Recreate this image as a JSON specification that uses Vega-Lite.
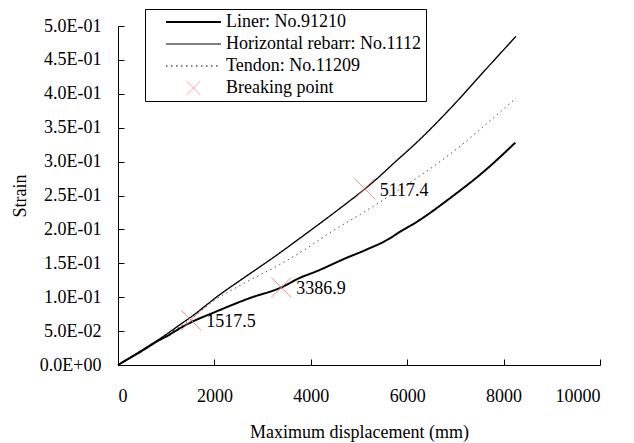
{
  "$schema": "https://vega.github.io/schema/vega-lite/v6.json",
  "autosize": {"type": "none"},
  "padding": {"left": 118, "top": 26, "right": 34, "bottom": 78},
  "width": 482,
  "height": 339,
  "background": "white",
  "config": {
    "font": "'Liberation Serif', 'Times New Roman', serif",
    "view": {"stroke": null},
    "axis": {
      "grid": false,
      "domainColor": "#000",
      "tickColor": "#000",
      "labelColor": "#000",
      "titleColor": "#000",
      "labelFont": "'Liberation Serif', 'Times New Roman', serif",
      "titleFont": "'Liberation Serif', 'Times New Roman', serif",
      "labelFontSize": 18,
      "titleFontSize": 18,
      "titleFontWeight": "normal",
      "domainWidth": 1,
      "tickWidth": 1
    }
  },
  "datasets": {
    "curves": [
      {"series": "Liner: No.91210", "x": 0, "y": 0},
      {"series": "Liner: No.91210", "x": 500, "y": 0.021},
      {"series": "Liner: No.91210", "x": 866, "y": 0.037},
      {"series": "Liner: No.91210", "x": 1000, "y": 0.042},
      {"series": "Liner: No.91210", "x": 1347, "y": 0.0567},
      {"series": "Liner: No.91210", "x": 1517.5, "y": 0.063},
      {"series": "Liner: No.91210", "x": 2039, "y": 0.0789},
      {"series": "Liner: No.91210", "x": 2730, "y": 0.0986},
      {"series": "Liner: No.91210", "x": 3386.9, "y": 0.1144},
      {"series": "Liner: No.91210", "x": 3766, "y": 0.1283},
      {"series": "Liner: No.91210", "x": 4111, "y": 0.138},
      {"series": "Liner: No.91210", "x": 4734, "y": 0.1578},
      {"series": "Liner: No.91210", "x": 5148, "y": 0.170},
      {"series": "Liner: No.91210", "x": 5631, "y": 0.1864},
      {"series": "Liner: No.91210", "x": 5838, "y": 0.196},
      {"series": "Liner: No.91210", "x": 6185, "y": 0.2105},
      {"series": "Liner: No.91210", "x": 6943, "y": 0.249},
      {"series": "Liner: No.91210", "x": 7600, "y": 0.286},
      {"series": "Liner: No.91210", "x": 8243, "y": 0.328},
      {"series": "Horizontal rebarr: No.1112", "x": 0, "y": 0},
      {"series": "Horizontal rebarr: No.1112", "x": 500, "y": 0.022},
      {"series": "Horizontal rebarr: No.1112", "x": 1000, "y": 0.045},
      {"series": "Horizontal rebarr: No.1112", "x": 1279, "y": 0.0592},
      {"series": "Horizontal rebarr: No.1112", "x": 1517.5, "y": 0.071},
      {"series": "Horizontal rebarr: No.1112", "x": 2108, "y": 0.1036},
      {"series": "Horizontal rebarr: No.1112", "x": 2600, "y": 0.128},
      {"series": "Horizontal rebarr: No.1112", "x": 3351, "y": 0.165},
      {"series": "Horizontal rebarr: No.1112", "x": 3766, "y": 0.1866},
      {"series": "Horizontal rebarr: No.1112", "x": 4388, "y": 0.2194},
      {"series": "Horizontal rebarr: No.1112", "x": 4802, "y": 0.2418},
      {"series": "Horizontal rebarr: No.1112", "x": 5127, "y": 0.26},
      {"series": "Horizontal rebarr: No.1112", "x": 5423, "y": 0.278},
      {"series": "Horizontal rebarr: No.1112", "x": 5666, "y": 0.294},
      {"series": "Horizontal rebarr: No.1112", "x": 6253, "y": 0.332},
      {"series": "Horizontal rebarr: No.1112", "x": 6943, "y": 0.382},
      {"series": "Horizontal rebarr: No.1112", "x": 7635, "y": 0.4364},
      {"series": "Horizontal rebarr: No.1112", "x": 8257, "y": 0.4848},
      {"series": "Tendon: No.11209", "x": 0, "y": 0},
      {"series": "Tendon: No.11209", "x": 500, "y": 0.022},
      {"series": "Tendon: No.11209", "x": 1000, "y": 0.044},
      {"series": "Tendon: No.11209", "x": 1517.5, "y": 0.068},
      {"series": "Tendon: No.11209", "x": 1969, "y": 0.0937},
      {"series": "Tendon: No.11209", "x": 2600, "y": 0.12},
      {"series": "Tendon: No.11209", "x": 3351, "y": 0.148},
      {"series": "Tendon: No.11209", "x": 3869, "y": 0.170},
      {"series": "Tendon: No.11209", "x": 4388, "y": 0.1948},
      {"series": "Tendon: No.11209", "x": 5078, "y": 0.2245},
      {"series": "Tendon: No.11209", "x": 5355, "y": 0.2367},
      {"series": "Tendon: No.11209", "x": 5699, "y": 0.2525},
      {"series": "Tendon: No.11209", "x": 6253, "y": 0.2786},
      {"series": "Tendon: No.11209", "x": 6528, "y": 0.292},
      {"series": "Tendon: No.11209", "x": 6943, "y": 0.314},
      {"series": "Tendon: No.11209", "x": 7324, "y": 0.336},
      {"series": "Tendon: No.11209", "x": 7635, "y": 0.355},
      {"series": "Tendon: No.11209", "x": 8257, "y": 0.3935}
    ],
    "breaks": [
      {"series": "Breaking point", "x": 1517.5, "y": 0.066, "label": "1517.5"},
      {"series": "Breaking point", "x": 3386.9, "y": 0.1144, "label": "3386.9"},
      {"series": "Breaking point", "x": 5117.4, "y": 0.26, "label": "5117.4"}
    ]
  },
  "encoding": {
    "x": {
      "field": "x", "type": "quantitative",
      "scale": {"domain": [0, 10000], "nice": false},
      "axis": {
        "title": "Maximum displacement (mm)",
        "values": [0, 2000, 4000, 6000, 8000, 10000],
        "format": "d",
        "tickSize": -6,
        "labelPadding": 28,
        "titlePadding": 18
      }
    },
    "y": {
      "field": "y", "type": "quantitative",
      "scale": {"domain": [0, 0.5], "nice": false},
      "axis": {
        "title": "Strain",
        "values": [0, 0.05, 0.1, 0.15, 0.2, 0.25, 0.3, 0.35, 0.4, 0.45, 0.5],
        "labelExpr": "replace(replace(format(datum.value, '.1e'), 'e-', 'E-0'), 'e+', 'E+0')",
        "tickSize": -6,
        "labelPadding": 23,
        "titlePadding": 10
      }
    }
  },
  "layer": [
    {
      "data": {"name": "curves"},
      "mark": {"type": "line", "interpolate": "monotone"},
      "encoding": {
        "color": {
          "field": "series", "type": "nominal",
          "scale": {
            "domain": ["Liner: No.91210", "Horizontal rebarr: No.1112", "Tendon: No.11209", "Breaking point"],
            "range": ["#000000", "#000000", "#000000", "#f08072"]
          },
          "legend": {
            "title": null,
            "orient": "none",
            "legendX": 27,
            "legendY": -17,
            "direction": "vertical",
            "strokeColor": "#000",
            "fillColor": "white",
            "padding": 4,
            "symbolOffset": 0,
            "symbolType": "stroke",
            "symbolSize": 3025,
            "labelOffset": 0,
            "labelFont": "'Liberation Serif', 'Times New Roman', serif",
            "labelFontSize": 18,
            "labelColor": "#000",
            "labelLimit": 400,
            "rowPadding": 4,
            "encode": {
              "symbols": {
                "update": {
                  "x": {"value": 44.5},
                  "shape": {"signal": "datum.value === 'Breaking point' ? 'M-1,-1L1,1M-1,1L1,-1' : 'stroke'"},
                  "size": {"signal": "datum.value === 'Breaking point' ? 169 : 3025"},
                  "strokeWidth": {"signal": "datum.value === 'Liner: No.91210' ? 2 : (datum.value === 'Breaking point' ? 0.8 : 1.2)"},
                  "strokeDash": {"signal": "datum.value === 'Tendon: No.11209' ? [1.5, 3.5] : [1, 0]"},
                  "stroke": {"signal": "datum.value === 'Breaking point' ? '#f08072' : '#000000'"},
                  "fill": {"value": "transparent"},
                  "opacity": {"value": 1}
                }
              },
              "labels": {
                "update": {
                  "x": {"value": 77}
                }
              }
            }
          }
        },
        "strokeWidth": {
          "field": "series", "type": "nominal",
          "scale": {
            "domain": ["Liner: No.91210", "Horizontal rebarr: No.1112", "Tendon: No.11209"],
            "range": [2, 0.7, 1.5]
          },
          "legend": null
        },
        "strokeDash": {
          "field": "series", "type": "nominal",
          "scale": {
            "domain": ["Liner: No.91210", "Horizontal rebarr: No.1112", "Tendon: No.11209"],
            "range": [[1, 0], [1, 0], [1.5, 3.5]]
          },
          "legend": null
        }
      }
    },
    {
      "data": {"name": "breaks"},
      "mark": {"type": "point", "shape": "M-1,-1L1,1M-1,1L1,-1", "size": 400, "filled": false, "strokeWidth": 0.9, "opacity": 1},
      "encoding": {
        "color": {"field": "series", "type": "nominal"}
      }
    },
    {
      "data": {"name": "breaks"},
      "mark": {"type": "text", "align": "left", "baseline": "middle", "dx": 15, "dy": 2, "font": "'Liberation Serif', 'Times New Roman', serif", "fontSize": 18, "color": "#000"},
      "encoding": {
        "text": {"field": "label", "type": "nominal"}
      }
    }
  ]
}
